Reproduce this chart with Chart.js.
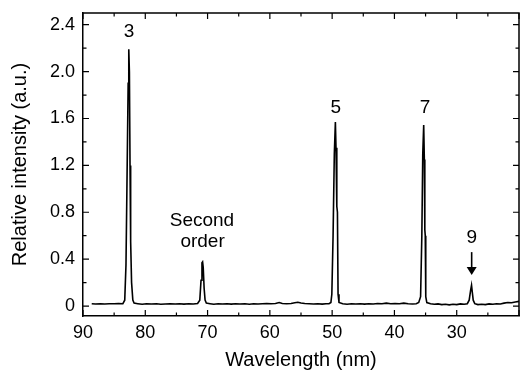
<!DOCTYPE html>
<html>
<head>
<meta charset="utf-8">
<script src="https://cdn.jsdelivr.net/npm/chart.js@4.4.1/dist/chart.umd.min.js"></script>
<style>
  html, body { margin: 0; padding: 0; background: #fff; }
  canvas { display: block; }
</style>
</head>
<body>
<canvas id="spectrum" width="520" height="379"></canvas>
<script>
  'use strict'

  // Spectrum (wavelength in nm, intensity in a.u.)
  const wavelength = [
    88.6, 88.0, 87.2, 86.5, 85.8, 85.0, 84.3, 83.6, 83.3, 83.1, 82.95, 82.75, 82.65, 82.55, 82.45, 82.35, 82.2, 82.0, 81.8,
    81.2, 80.5, 79.8, 79.0, 78.2, 77.5, 76.8, 76.0, 75.2, 74.5, 73.8, 73.0, 72.3, 71.6,
    71.25, 71.05, 70.9, 70.8, 70.7, 70.55, 70.4, 70.2,
    69.6, 69.0, 68.3, 67.6, 66.9, 66.2, 65.5, 64.8, 64.0, 63.3, 62.6, 61.9, 61.2, 60.5, 59.8, 59.1, 58.5, 58.0,
    57.3, 56.6, 56.0, 55.5, 55.0, 54.4, 53.7, 53.0, 52.3, 51.6, 51.0, 50.5,
    50.2, 50.05, 49.85, 49.65, 49.48, 49.38, 49.25, 49.15, 49.05, 48.9,
    48.3, 47.6, 46.9, 46.2, 45.5, 44.8, 44.1, 43.4, 42.7, 42.0, 41.3, 40.6, 39.9, 39.2, 38.5, 37.8, 37.1, 36.5,
    36.1, 35.8, 35.6, 35.45, 35.3, 35.2, 35.12, 35.05, 34.97, 34.8,
    34.2, 33.6, 33.0, 32.4, 31.8, 31.2, 30.6, 30.0, 29.4, 28.8, 28.3,
    28.0, 27.75, 27.62, 27.5, 27.35, 27.1,
    26.6, 26.0, 25.4, 24.8, 24.2, 23.6, 23.0, 22.4, 21.8, 21.2, 20.6, 20.0
  ]
  const intensity = [
    0.02, 0.018, 0.02, 0.017, 0.02, 0.019, 0.022, 0.02, 0.05, 0.35, 1.0, 1.9, 2.19, 2.0, 1.2, 0.55, 0.2, 0.05, 0.025,
    0.02, 0.015, 0.02, 0.018, 0.02, 0.015, 0.018, 0.02, 0.017, 0.02, 0.016, 0.02, 0.018, 0.022,
    0.05, 0.22, 0.37, 0.377, 0.33, 0.15, 0.05, 0.025,
    0.02, 0.015, 0.02, 0.017, 0.02, 0.016, 0.02, 0.018, 0.02, 0.015, 0.02, 0.018, 0.02, 0.022, 0.02, 0.022, 0.03, 0.022,
    0.02, 0.022, 0.028, 0.032, 0.026, 0.022, 0.02, 0.018, 0.02, 0.016, 0.02, 0.02,
    0.03, 0.1, 0.6, 1.3, 1.57, 1.35, 0.85, 0.8, 0.1, 0.03,
    0.02, 0.015, 0.02, 0.018, 0.02, 0.016, 0.02, 0.018, 0.022, 0.02, 0.025, 0.02, 0.022, 0.02, 0.025, 0.02, 0.018, 0.02,
    0.03, 0.08, 0.6, 1.3, 1.545, 1.25, 0.65, 0.6, 0.08, 0.03,
    0.02, 0.015, 0.018, 0.012, 0.015, 0.01, 0.015, 0.012, 0.018, 0.015, 0.02,
    0.05, 0.14, 0.178, 0.12, 0.05, 0.02,
    0.012, 0.015, 0.012, 0.018, 0.015, 0.02, 0.018, 0.025, 0.03, 0.028, 0.035, 0.04
  ]

  // Axis tick labels
  const xTickLabels = [90, 80, 70, 60, 50, 40, 30]
  const yTickLabels = [0, 0.4, 0.8, 1.2, 1.6, 2.0, 2.4]

  // Peak labels, placed in data units
  const peakNotes = [
    { text: '3', x: 82.6, y: 2.34 },
    { text: 'Second', x: 70.9, y: 0.73 },
    { text: 'order', x: 70.8, y: 0.545 },
    { text: '5', x: 49.4, y: 1.69 },
    { text: '7', x: 35.1, y: 1.69 },
    { text: '9', x: 27.6, y: 0.58 }
  ]

  const points = wavelength.map((w, i) => ({ x: w, y: intensity[i] }))
  const FONT = '"Liberation Sans", Arial, Helvetica, sans-serif'

  // frame, inward ticks and the peak labels
  const decorations = {
    id: 'decorations',
    afterDraw (chart) {
      const { ctx, chartArea: a, scales: { x, y } } = chart
      ctx.save()
      ctx.strokeStyle = '#000'
      ctx.lineWidth = 1.5
      ctx.beginPath()
      ctx.moveTo(a.left, a.top); ctx.lineTo(a.right, a.top); ctx.lineTo(a.right, a.bottom)
      ctx.stroke()

      ctx.lineWidth = 1.2
      ctx.beginPath()
      for (let v = 90; v >= 20; v -= 5) {
        const px = x.getPixelForValue(v)
        const len = v % 10 === 0 ? 6 : 3.5
        ctx.moveTo(px, a.bottom); ctx.lineTo(px, a.bottom - len)
        ctx.moveTo(px, a.top); ctx.lineTo(px, a.top + len)
      }
      for (let k = 0; k <= 12; k++) {
        const v = k * 0.2
        const py = y.getPixelForValue(v)
        const len = k % 2 === 0 ? 6 : 3.5
        ctx.moveTo(a.left, py); ctx.lineTo(a.left + len, py)
        ctx.moveTo(a.right, py); ctx.lineTo(a.right - len, py)
      }
      ctx.stroke()

      ctx.fillStyle = '#000'
      ctx.font = '19px ' + FONT
      ctx.textAlign = 'center'
      ctx.textBaseline = 'middle'
      peakNotes.forEach(n => {
        ctx.fillText(n.text, x.getPixelForValue(n.x), y.getPixelForValue(n.y))
      })

      // arrow pointing at peak 9
      const ax = x.getPixelForValue(27.6)
      const y1 = y.getPixelForValue(0.46)
      const y2 = y.getPixelForValue(0.265)
      ctx.lineWidth = 1.6
      ctx.beginPath()
      ctx.moveTo(ax, y1); ctx.lineTo(ax, y2 - 6)
      ctx.stroke()
      ctx.beginPath()
      ctx.moveTo(ax - 5, y2 - 8); ctx.lineTo(ax + 5, y2 - 8); ctx.lineTo(ax, y2)
      ctx.closePath()
      ctx.fill()
      ctx.restore()
    }
  }

  new Chart(document.getElementById('spectrum'), {
    type: 'line',
    data: {
      datasets: [{
        data: points,
        borderColor: '#000',
        borderWidth: 1.6,
        pointRadius: 0,
        tension: 0,
        fill: false
      }]
    },
    options: {
      responsive: false,
      animation: false,
      layout: { padding: { top: 13, right: 1, left: 0, bottom: 0 } },
      plugins: {
        legend: { display: false },
        tooltip: { enabled: false }
      },
      scales: {
        x: {
          type: 'linear',
          reverse: true,
          min: 20,
          max: 90,
          afterBuildTicks: s => { s.ticks = xTickLabels.map(v => ({ value: v })) },
          afterFit: s => { s.height = 63; s.paddingLeft = 0; s.paddingRight = 0 },
          grid: { display: true, drawOnChartArea: false, drawTicks: false },
          border: { color: '#000', width: 1.5 },
          ticks: { color: '#000', padding: 6, maxRotation: 0, font: { family: FONT, size: 18 } },
          title: {
            display: true,
            text: 'Wavelength (nm)',
            color: '#000',
            padding: { top: 0, bottom: 7 },
            font: { family: FONT, size: 20 }
          }
        },
        y: {
          min: -0.085,
          max: 2.5,
          afterBuildTicks: s => { s.ticks = yTickLabels.map(v => ({ value: v })) },
          afterFit: s => { s.width = 83; s.paddingTop = 0; s.paddingBottom = 0 },
          grid: { display: true, drawOnChartArea: false, drawTicks: false },
          border: { color: '#000', width: 1.5 },
          ticks: {
            color: '#000',
            padding: 8,
            font: { family: FONT, size: 18 },
            callback: v => v === 0 ? '0' : v.toFixed(1)
          },
          title: {
            display: true,
            text: 'Relative intensity (a.u.)',
            color: '#000',
            padding: { top: 8, bottom: 0 },
            font: { family: FONT, size: 20 }
          }
        }
      }
    },
    plugins: [decorations]
  })
</script>
</body>
</html>
